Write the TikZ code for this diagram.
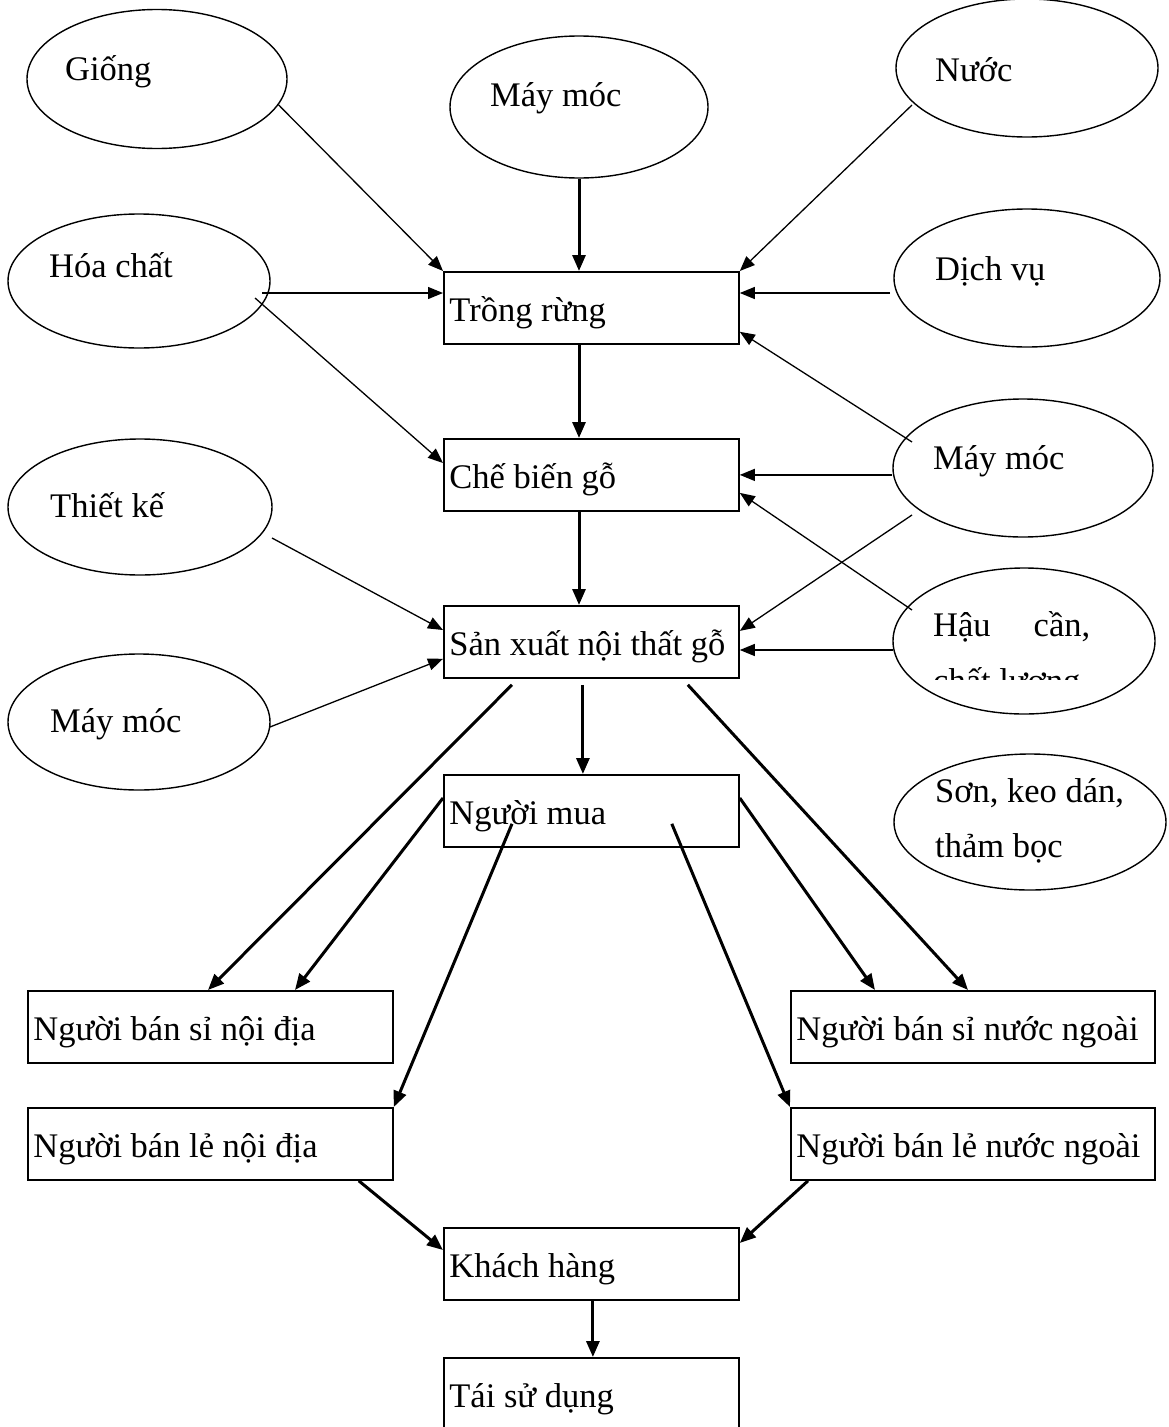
\documentclass[tikz,border=0pt]{standalone}
\usepackage{fontspec}
\setmainfont{Liberation Serif}
\usetikzlibrary{shapes.geometric,arrows.meta}

\begin{document}
\begin{tikzpicture}[x=1pt,y=-1pt,
  every node/.style={font=\fontsize{34.5}{55}\selectfont},
  oval/.style={draw, ellipse, line width=1.4pt, minimum width=262pt,
    minimum height=138pt, inner sep=0pt},
  lbl/.style={anchor=base west, inner sep=0pt},
  stage/.style={draw, line width=1.8pt, rectangle, anchor=north west,
    minimum height=72pt, text height=50pt, text depth=22pt, inner ysep=0pt,
    inner xsep=5.5pt, align=flush left, text width=284pt},
  thinarr/.style={line width=1.3pt, -{Triangle[length=15pt,width=12pt]}},
  thickarr/.style={line width=3pt, -{Triangle[length=16pt,width=13pt]}}
]
\useasboundingbox (0,0) rectangle (1168,1427);

% ---- input ovals ----
\node[oval, minimum width=260pt, minimum height=139pt] (giong) at (157,79) {};
\node[lbl] (giong-t) at (65,80) {Giống};
\node[oval, minimum width=258pt, minimum height=142pt] (may1) at (579,107) {};
\node[lbl] (may1-t) at (490,106) {Máy móc};
\node[oval] (nuoc) at (1027,68) {};
\node[lbl] (nuoc-t) at (935,81) {Nước};
\node[oval, minimum height=134pt] (hoa) at (139,281) {};
\node[lbl] (hoa-t) at (49,277) {Hóa chất};
\node[oval, minimum width=266pt] (dv) at (1027,278) {};
\node[lbl] (dv-t) at (935,280) {Dịch vụ};
\node[oval, minimum width=260pt] (may2) at (1023,468) {};
\node[lbl] (may2-t) at (933,469) {Máy móc};
\node[oval, minimum width=264pt, minimum height=136pt] (tk) at (140,507) {};
\node[lbl] (tk-t) at (50,517) {Thiết kế};
\node[oval, minimum height=146pt] (hau) at (1024,641) {};
\node[lbl] (hau-t) at (933,636) {\hbox to 157pt{Hậu\hfill cần,}};
\begin{scope}
  \clip (900,600) rectangle (1160,679);
  \node[lbl] (hau-t2) at (933,692) {chất lượng};
\end{scope}
\node[oval, minimum height=136pt] (may3) at (139,722) {};
\node[lbl] (may3-t) at (50,732) {Máy móc};
\node[oval, minimum width=272pt, minimum height=136pt] (son) at (1030,822) {};
\node[lbl] (son-t) at (935,802) {Sơn, keo dán,};
\node[lbl] (son-t2) at (935,857) {thảm bọc};

% ---- chain boxes ----
\node[stage] (trong) at (443,271) {Trồng rừng};
\node[stage] (chebien) at (443,438) {Chế biến gỗ};
\node[stage] (sx) at (443,605) {\mbox{Sản xuất nội thất gỗ}};
\node[stage] (mua) at (443,774) {Người mua};
\node[stage, text width=354pt] (sinoi) at (27,990) {\mbox{Người bán sỉ nội địa}};
\node[stage, text width=354pt] (lenoi) at (27,1107) {\mbox{Người bán lẻ nội địa}};
\node[stage, text width=353pt] (sinn) at (790,990) {\mbox{Người bán sỉ nước ngoài}};
\node[stage, text width=353pt] (lenn) at (790,1107) {\mbox{Người bán lẻ nước ngoài}};
\node[stage] (khach) at (443,1227) {Khách hàng};
\node[stage] (taisd) at (443,1357) {Tái sử dụng};

\node[lbl] (src) at (780,1452) {Nguồn: FAO};

% ---- connector end points ----
\coordinate (nuoc-o) at ([shift={(-115,37)}]nuoc.center);
\coordinate (hoa-o1) at ([shift={(123,12)}]hoa.center);
\coordinate (hoa-o2) at ([shift={(116,17)}]hoa.center);
\coordinate (cb-i1) at ([shift={(0,25)}]chebien.north west);
\coordinate (dv-o) at ([shift={(-137,15)}]dv.center);
\coordinate (may2-o1) at ([shift={(-111,-26)}]may2.center);
\coordinate (tr-i1) at ([shift={(0,-13)}]trong.south east);
\coordinate (may2-o2) at ([shift={(-111,47)}]may2.center);
\coordinate (sx-i1) at ([shift={(0,-11)}]sx.east);
\coordinate (hau-o1) at ([shift={(-112,-31)}]hau.center);
\coordinate (cb-i2) at ([shift={(0,18)}]chebien.east);
\coordinate (hau-o2) at ([shift={(-131,9)}]hau.center);
\coordinate (tk-o) at ([shift={(132,31)}]tk.center);
\coordinate (sx-i2) at ([shift={(0,25)}]sx.north west);
\coordinate (may3-o) at ([shift={(131,5)}]may3.center);
\coordinate (sx-i3) at ([shift={(0,-20)}]sx.south west);

\coordinate (sx-o1) at ([shift={(-8.5,6)}]sx.south);
\coordinate (mua-i) at ([shift={(-8.5,0)}]mua.north);
\coordinate (sx-o2) at ([shift={(69,6)}]sx.south west);
\coordinate (sinoi-i1) at ([shift={(181,0)}]sinoi.north west);
\coordinate (sx-o3) at ([shift={(-52,6)}]sx.south east);
\coordinate (sinn-i1) at ([shift={(178,0)}]sinn.north west);
\coordinate (mua-o1) at ([shift={(0,24)}]mua.north west);
\coordinate (sinoi-i2) at ([shift={(268,0)}]sinoi.north west);
\coordinate (mua-o2) at ([shift={(69,-24)}]mua.south west);
\coordinate (mua-o3) at ([shift={(0,24)}]mua.north east);
\coordinate (sinn-i2) at ([shift={(85,0)}]sinn.north west);
\coordinate (mua-o4) at ([shift={(-68,-24)}]mua.south east);
\coordinate (lenoi-o) at ([shift={(-35,0)}]lenoi.south east);
\coordinate (kh-i1) at ([shift={(0,23)}]khach.north west);
\coordinate (lenn-o) at ([shift={(18,0)}]lenn.south west);
\coordinate (kh-i2) at ([shift={(0,16)}]khach.north east);
\coordinate (kh-o) at ([shift={(1.5,0)}]khach.south);
\coordinate (ts-i) at ([shift={(1.5,0)}]taisd.north);

% ---- thin input arrows ----
\draw[thinarr] (giong.-12) -- (trong.north west);
\draw[thinarr] (nuoc-o) -- (trong.north east);
\draw[thinarr] (hoa-o1) -- (hoa-o1 -| trong.west);
\draw[thinarr] (hoa-o2) -- (cb-i1);
\draw[thinarr] (dv-o) -- (dv-o -| trong.east);
\draw[thinarr] (may2-o1) -- (tr-i1);
\draw[thinarr] (chebien.east -| may2.west) -- (chebien.east);
\draw[thinarr] (may2-o2) -- (sx-i1);
\draw[thinarr] (hau-o1) -- (cb-i2);
\draw[thinarr] (hau-o2) -- (hau-o2 -| sx.east);
\draw[thinarr] (tk-o) -- (sx-i2);
\draw[thinarr] (may3-o) -- (sx-i3);

% ---- thick flow arrows ----
\draw[thickarr] (may1.south) -- (may1.south |- trong.north);
\draw[thickarr] (may1.south |- trong.south) -- (may1.south |- chebien.north);
\draw[thickarr] (may1.south |- chebien.south) -- (may1.south |- sx.north);
\draw[thickarr] (sx-o1) -- (mua-i);
\draw[thickarr] (sx-o2) -- (sinoi-i1);
\draw[thickarr] (sx-o3) -- (sinn-i1);
\draw[thickarr] (mua-o1) -- (sinoi-i2);
\draw[thickarr] (mua-o2) -- (lenoi.north east);
\draw[thickarr] (mua-o3) -- (sinn-i2);
\draw[thickarr] (mua-o4) -- (lenn.north west);
\draw[thickarr] (lenoi-o) -- (kh-i1);
\draw[thickarr] (lenn-o) -- (kh-i2);
\draw[thickarr] (kh-o) -- (ts-i);
\end{tikzpicture}
\end{document}
